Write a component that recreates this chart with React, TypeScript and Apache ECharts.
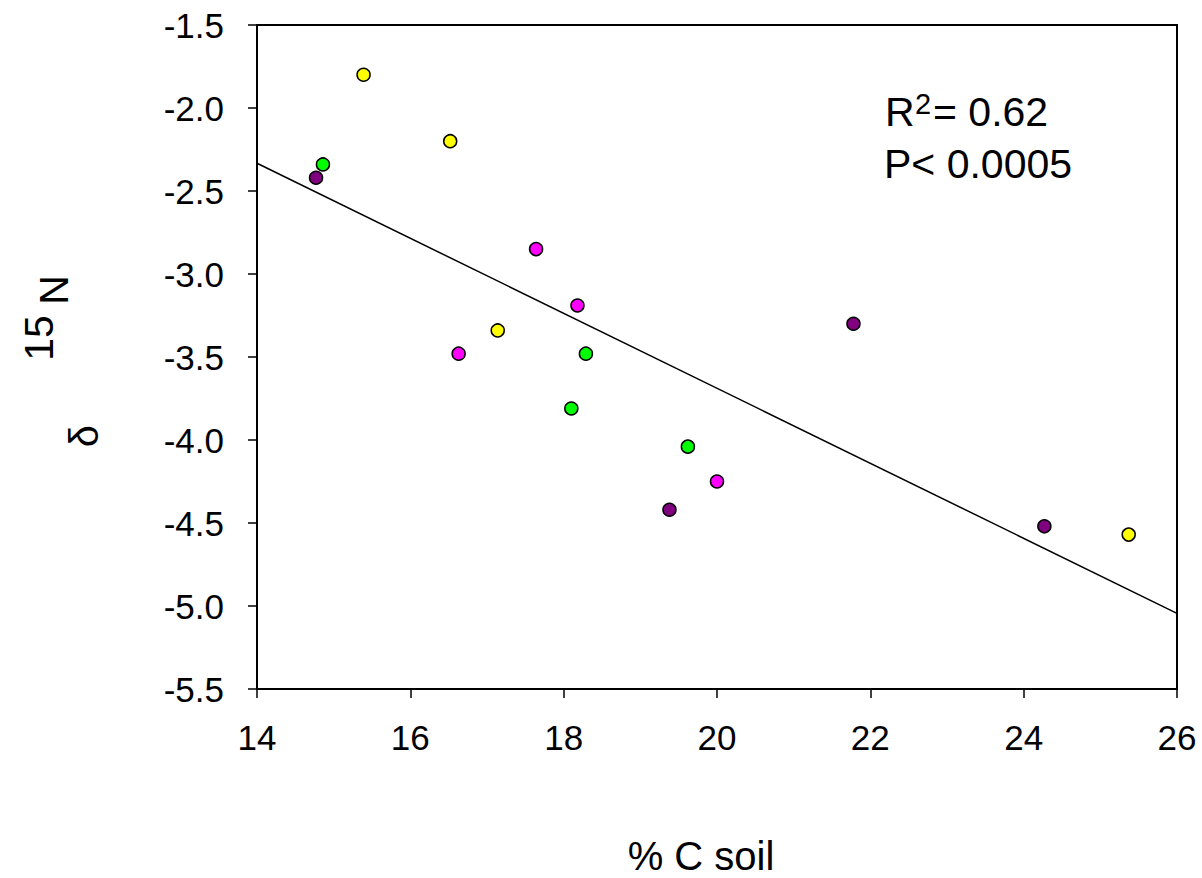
import React, { useEffect, useRef } from "react";
import * as echarts from "echarts";

const FONT = "'Liberation Sans', Arial, Helvetica, sans-serif";

// Data (x = % C soil, y = δ15N)
const yellowX = [15.39, 16.52, 17.14, 25.37];
const yellowY = [-1.8, -2.2, -3.34, -4.57];
const greenX = [14.86, 18.29, 18.1, 19.62];
const greenY = [-2.34, -3.48, -3.81, -4.04];
const purpleX = [14.77, 19.38, 21.78, 24.27];
const purpleY = [-2.42, -4.42, -3.3, -4.52];
const magentaX = [17.64, 16.63, 18.18, 20.0];
const magentaY = [-2.85, -3.48, -3.19, -4.25];
const regressionX = [14, 26];
const regressionY = [-2.333, -5.044];

const xMin = 14;
const xMax = 26;
const xStep = 2;
const yMin = -5.5;
const yMax = -1.5;
const yStep = 0.5;

const annotationR2 = "0.62";
const annotationP = "P< 0.0005";
const xTitle = "% C soil";

const zip = (xs: number[], ys: number[]) => xs.map((x, i) => [x, ys[i]]);

const scatter = (name: string, xs: number[], ys: number[], color: string) => ({
  name,
  type: "scatter",
  data: zip(xs, ys),
  symbol: "circle",
  symbolSize: 13,
  itemStyle: { color, borderColor: "#000", borderWidth: 1.5, opacity: 1 },
  z: 3,
});

export default function App() {
  const ref = useRef<HTMLDivElement>(null);
  useEffect(() => {
    if (!ref.current) return;
    const chart = echarts.init(ref.current, null, { renderer: "svg" });
    chart.setOption({
      animation: false,
      backgroundColor: "#fff",
      grid: {
        left: 257,
        right: 25,
        top: 25,
        bottom: 189,
        show: true,
        borderColor: "#000",
        borderWidth: 2,
        backgroundColor: "transparent",
      },
      xAxis: {
        type: "value",
        min: xMin,
        max: xMax,
        interval: xStep,
        axisLine: { show: true, lineStyle: { color: "#000", width: 2 } },
        axisTick: { show: true, inside: false, length: 9, lineStyle: { color: "#000", width: 1.5 } },
        axisLabel: { color: "#000", fontSize: 35, fontFamily: FONT, margin: 31 },
        splitLine: { show: false },
      },
      yAxis: {
        type: "value",
        min: yMin,
        max: yMax,
        interval: yStep,
        axisLine: { show: true, lineStyle: { color: "#000", width: 2 } },
        axisTick: { show: true, inside: false, length: 9, lineStyle: { color: "#000", width: 1.5 } },
        axisLabel: {
          color: "#000",
          fontSize: 35,
          fontFamily: FONT,
          margin: 33,
          formatter: (v: number) => v.toFixed(1),
        },
        splitLine: { show: false },
      },
      series: [
        {
          name: "fit",
          type: "line",
          data: zip(regressionX, regressionY),
          symbol: "none",
          lineStyle: { color: "#000", width: 1.5 },
          z: 2,
        },
        scatter("yellow", yellowX, yellowY, "#FFFF00"),
        scatter("green", greenX, greenY, "#00FF00"),
        scatter("purple", purpleX, purpleY, "#800080"),
        scatter("magenta", magentaX, magentaY, "#FF00FF"),
      ],
      graphic: [
        {
          type: "text",
          x: 885,
          y: 112,
          style: { text: "R", fontSize: 41, fontFamily: FONT, fill: "#000", align: "left", verticalAlign: "middle" },
        },
        {
          type: "text",
          x: 915,
          y: 104,
          style: { text: "2", fontSize: 29, fontFamily: FONT, fill: "#000", align: "left", verticalAlign: "middle" },
        },
        {
          type: "text",
          x: 933,
          y: 112,
          style: { text: "= " + annotationR2, fontSize: 41, fontFamily: FONT, fill: "#000", align: "left", verticalAlign: "middle" },
        },
        {
          type: "text",
          x: 884,
          y: 164,
          style: { text: annotationP, fontSize: 41, fontFamily: FONT, fill: "#000", align: "left", verticalAlign: "middle" },
        },
        {
          type: "text",
          x: 701,
          y: 856,
          style: { text: xTitle, fontSize: 40, fontFamily: FONT, fill: "#000", align: "center", verticalAlign: "middle" },
        },
        {
          type: "text",
          x: 54,
          y: 290,
          rotation: Math.PI / 2,
          style: { text: "N", fontSize: 41, fontFamily: FONT, fill: "#000", align: "center", verticalAlign: "middle" },
        },
        {
          type: "text",
          x: 39,
          y: 338,
          rotation: Math.PI / 2,
          style: { text: "15", fontSize: 41, fontFamily: FONT, fill: "#000", align: "center", verticalAlign: "middle" },
        },
        {
          type: "text",
          x: 84,
          y: 436,
          rotation: Math.PI / 2,
          style: { text: "δ", fontSize: 40, fontFamily: FONT, fill: "#000", align: "center", verticalAlign: "middle" },
        },
      ],
    });
    return () => chart.dispose();
  }, []);
  return <div ref={ref} style={{ width: 1202, height: 878, position: "absolute", left: 0, top: 0 }} />;
}
